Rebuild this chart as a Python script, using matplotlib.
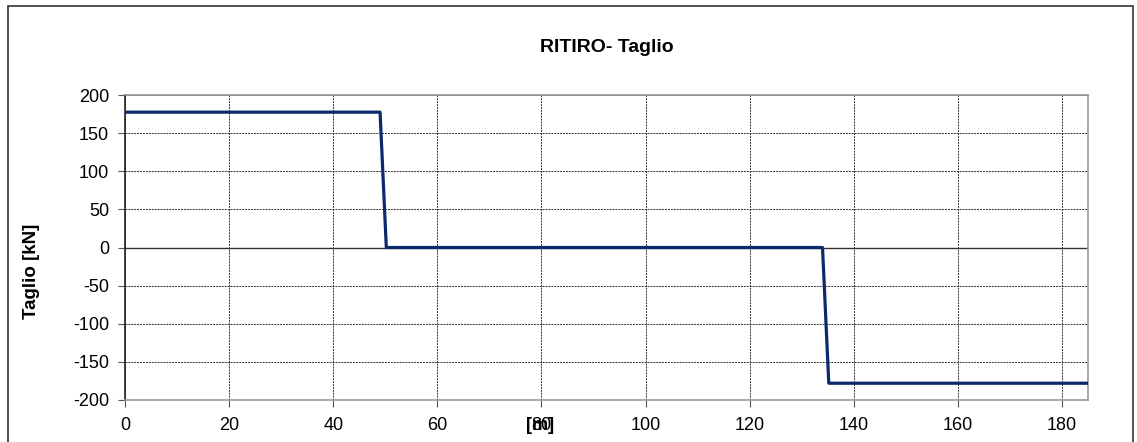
import matplotlib.pyplot as plt
from matplotlib.patches import Rectangle

plt.rcParams['font.family'] = ['Liberation Sans', 'DejaVu Sans']
plt.rcParams['axes.unicode_minus'] = False

# shear diagram points (x in m, shear in kN)
x_m = [0, 49.0, 50.2, 134.0, 135.2, 185]
taglio = [177.5, 177.5, 0, 0, -178, -178]

x_ticks = [0, 20, 40, 60, 80, 100, 120, 140, 160, 180]
y_ticks = [200, 150, 100, 50, 0, -50, -100, -150, -200]

fig = plt.figure(figsize=(11.37, 4.42), dpi=100)
ax = fig.add_axes([125 / 1137, 1 - 400 / 442, (1088 - 125) / 1137, 305 / 442])

ax.plot(x_m, taglio, color='#0b2a6b', linewidth=2.3, zorder=3)

ax.set_xlim(0, 185)
ax.set_ylim(-200, 200)
ax.set_xticks(x_ticks)
ax.set_yticks(y_ticks)
ax.tick_params(labelsize=13, length=5, color='#555555', direction='out')
ax.tick_params(axis='x', pad=7)
ax.tick_params(axis='y', pad=6.5)
ax.grid(True, color='#333333', linestyle=(0, (2, 1)), linewidth=0.7)
ax.axhline(0, color='#333333', linewidth=1.0, zorder=2)
for s in ax.spines.values():
    s.set_color('#999999')
    s.set_linewidth(1.2)
ax.spines['left'].set_color('#222222')

ax.set_title('RITIRO- Taglio', fontsize=14, fontweight='bold', pad=31)
ax.set_ylabel('Taglio [kN]', fontsize=13.5, fontweight='bold')
ax.yaxis.set_label_coords(-0.0883, 0.423)
ax.set_xlabel('[m]', fontsize=13, fontweight='bold')
ax.xaxis.set_label_coords(0.431, -0.0557)

# outer chart border
fig.patches.append(Rectangle((8 / 1137, -0.1), (1133 - 8) / 1137, 1 - 6 / 442 + 0.1,
                             transform=fig.transFigure, fill=False,
                             edgecolor='#333333', linewidth=1.2, clip_on=False))

fig.savefig('out.png', dpi=100)
